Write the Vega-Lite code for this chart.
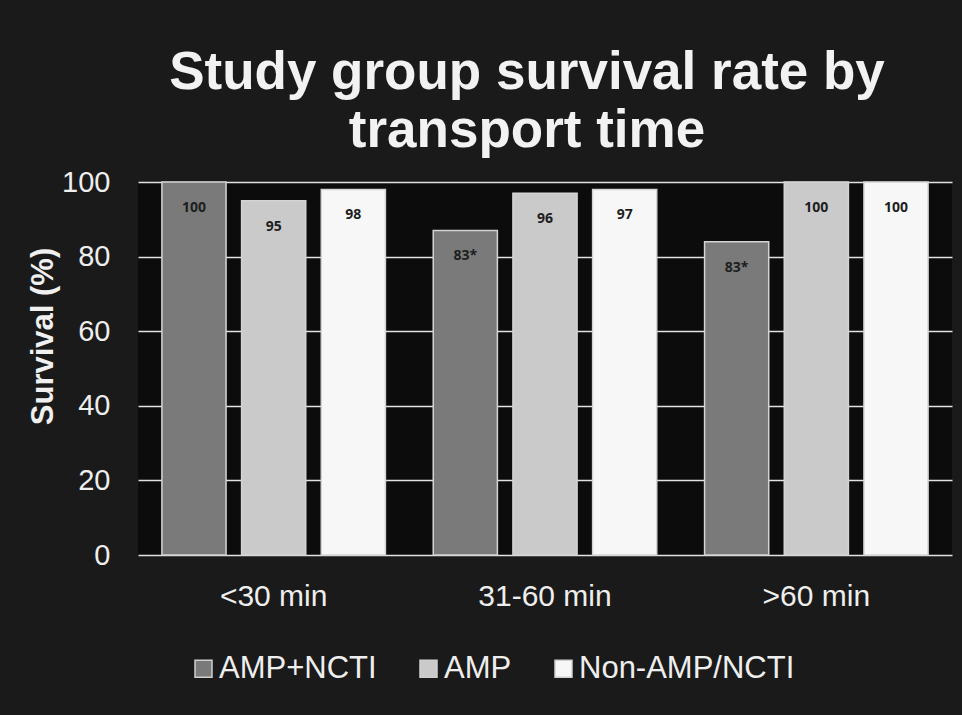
{
  "$schema": "https://vega.github.io/schema/vega-lite/v6.json",
  "width": 814,
  "height": 373,
  "autosize": {"type": "none"},
  "padding": {"left": 138, "top": 182, "right": 10, "bottom": 160},
  "background": "#1a1a1a",
  "title": {
    "text": ["Study group survival rate by", "transport time"],
    "color": "#f2f2f2",
    "font": "Liberation Sans",
    "fontSize": 53,
    "fontWeight": "bold",
    "lineHeight": 58,
    "anchor": "middle",
    "dx": -18,
    "offset": 10
  },
  "config": {"view": {"stroke": null, "fill": "#0c0c0c"}},
  "data": {
    "values": [
      {"time": "<30 min", "group": "AMP+NCTI", "survival": 100, "label": "100"},
      {"time": "<30 min", "group": "AMP", "survival": 95, "label": "95"},
      {"time": "<30 min", "group": "Non-AMP/NCTI", "survival": 98, "label": "98"},
      {"time": "31-60 min", "group": "AMP+NCTI", "survival": 87, "label": "83*"},
      {"time": "31-60 min", "group": "AMP", "survival": 97, "label": "96"},
      {"time": "31-60 min", "group": "Non-AMP/NCTI", "survival": 98, "label": "97"},
      {"time": ">60 min", "group": "AMP+NCTI", "survival": 84, "label": "83*"},
      {"time": ">60 min", "group": "AMP", "survival": 100, "label": "100"},
      {"time": ">60 min", "group": "Non-AMP/NCTI", "survival": 100, "label": "100"}
    ]
  },
  "encoding": {
    "x": {
      "field": "time",
      "type": "nominal",
      "sort": ["<30 min", "31-60 min", ">60 min"],
      "scale": {"paddingInner": 0, "paddingOuter": 0},
      "axis": {
        "title": null,
        "labelAngle": 0,
        "labelFont": "Liberation Sans",
        "labelFontSize": 30,
        "labelColor": "#eeeeee",
        "labelPadding": 26,
        "ticks": false,
        "tickSize": 0,
        "domain": false
      }
    },
    "xOffset": {
      "field": "group",
      "type": "nominal",
      "sort": ["AMP+NCTI", "AMP", "Non-AMP/NCTI"],
      "scale": {"paddingInner": 0.195, "paddingOuter": 0.3}
    },
    "y": {
      "field": "survival",
      "type": "quantitative",
      "scale": {"domain": [0, 100]},
      "axis": {
        "values": [0, 20, 40, 60, 80, 100],
        "title": "Survival (%)",
        "titleFont": "Liberation Sans",
        "titleFontSize": 31,
        "titleFontWeight": "bold",
        "titleColor": "#f0f0f0",
        "titleAngle": -90,
        "titleBaseline": "alphabetic",
        "titleAlign": "center",
        "titleX": -86,
        "titleY": 154,
        "labelFont": "Liberation Sans",
        "labelFontSize": 29,
        "labelColor": "#eeeeee",
        "labelPadding": 28,
        "ticks": false,
        "tickSize": 0,
        "domain": false,
        "grid": true,
        "gridColor": "#e2e2e2",
        "gridWidth": 1.5
      }
    }
  },
  "layer": [
    {
      "mark": {"type": "bar", "stroke": "#d4d4d4", "strokeWidth": 1.5},
      "encoding": {
        "color": {
          "field": "group",
          "type": "nominal",
          "scale": {
            "domain": ["AMP+NCTI", "AMP", "Non-AMP/NCTI"],
            "range": ["#7a7a7a", "#cacaca", "#f7f7f7"]
          },
          "legend": {
            "orient": "none",
            "legendX": 50,
            "legendY": 471,
            "direction": "horizontal",
            "title": null,
            "symbolType": "square",
            "symbolSize": 289,
            "symbolStrokeColor": "#d0d0d0",
            "symbolStrokeWidth": 1.5,
            "symbolOpacity": 1,
            "labelFont": "Liberation Sans",
            "labelFontSize": 31,
            "labelColor": "#eeeeee",
            "labelOffset": 0,
            "labelLimit": 400,
            "columnPadding": 36
          }
        }
      }
    },
    {
      "mark": {
        "type": "text",
        "dy": 26,
        "font": "Open Sans",
        "fontWeight": "bold",
        "fontSize": 14,
        "color": "#1e1e1e"
      },
      "encoding": {
        "text": {"field": "label"}
      }
    }
  ]
}
